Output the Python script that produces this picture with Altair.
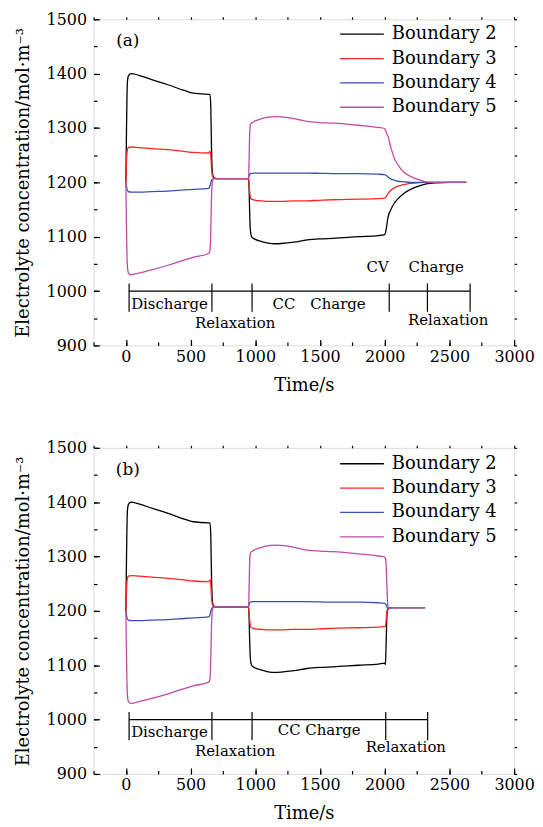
import altair as alt
import pandas as pd

FONT = "DejaVu Serif"
SERIES = ["Boundary 2", "Boundary 3", "Boundary 4", "Boundary 5"]
COLORS = ["#000000", "#ff2424", "#3b4fb2", "#c04aa8"]

# ---- shared part (0 .. 2000 s) ----
T_COMMON = [0, 5, 12, 20, 40, 100, 200, 320, 450, 520, 640, 650, 656, 662, 670, 680, 700,
            800, 900, 948, 952, 956, 962, 970, 985, 1000, 1050, 1100, 1150, 1200, 1300,
            1400, 1500, 1600, 1800, 1950, 2000]
B2_COMMON = [1200, 1300, 1385, 1396, 1400, 1397, 1389, 1380, 1369, 1364, 1362, 1362, 1340, 1260,
             1215, 1209, 1207, 1207, 1207, 1207, 1190, 1150, 1112, 1101, 1097, 1095, 1091, 1088,
             1087, 1087.5, 1090, 1094, 1096, 1097, 1100, 1102, 1104]
B3_COMMON = [1200, 1240, 1260, 1264, 1265, 1264, 1262, 1260, 1257, 1255, 1254, 1257, 1250, 1225,
             1211, 1208, 1207, 1207, 1207, 1207, 1198, 1185, 1173, 1169, 1168, 1167, 1166, 1165,
             1165, 1165, 1166, 1166, 1167, 1168, 1169, 1170, 1171]
B4_COMMON = [1200, 1192, 1185, 1183, 1182, 1182, 1183, 1184, 1186, 1187, 1189, 1193, 1199, 1204,
             1206, 1207, 1207, 1207, 1207, 1207, 1211, 1214, 1216, 1216.5, 1217, 1217, 1217, 1217,
             1217, 1217, 1217, 1217, 1216.5, 1216, 1216, 1215, 1214]
B5_COMMON = [1200, 1110, 1045, 1033, 1030, 1033, 1039, 1047, 1057, 1062, 1069, 1075, 1110, 1175,
             1203, 1207, 1207, 1207, 1207, 1207, 1240, 1285, 1306, 1309, 1311, 1313, 1317, 1320,
             1321, 1320.5, 1317, 1312, 1310, 1309, 1305, 1301, 1299]

# ---- (a) CV charge + relaxation tail ----
T_TAIL_A = [2010, 2025, 2050, 2075, 2100, 2150, 2200, 2250, 2300, 2350, 2400, 2500, 2630]
B2_TAIL_A = [1112, 1135, 1151, 1162, 1169, 1180, 1187, 1192, 1196, 1198, 1199, 1200, 1200]
B3_TAIL_A = [1173, 1179, 1186, 1190, 1193, 1196, 1198, 1199, 1200, 1200, 1200, 1200, 1200]
B4_TAIL_A = [1213, 1210, 1206, 1204, 1202, 1201, 1200, 1200, 1200, 1200, 1200, 1200, 1200]
B5_TAIL_A = [1293, 1285, 1262, 1244, 1233, 1218, 1211, 1206, 1202, 1200, 1200, 1200, 1200]

# ---- (b) relaxation tail ----
T_TAIL_B = [2006, 2012, 2018, 2025, 2035, 2060, 2100, 2200, 2312]
B2_TAIL_B = [1101, 1150, 1195, 1203, 1205, 1206, 1206, 1206, 1206]
B3_TAIL_B = [1171, 1185, 1200, 1204, 1205, 1206, 1206, 1206, 1206]
B4_TAIL_B = [1213, 1211, 1207, 1204, 1205, 1206, 1206, 1206, 1206]
B5_TAIL_B = [1297, 1280, 1240, 1207, 1204, 1206, 1206, 1206, 1206]

# ---- timeline annotations ----
PHASES_A = [25, 665, 975, 2035, 2330, 2660]
PHASES_B = [25, 665, 975, 2008, 2332]
TIMELINE_LEVEL = 1000
TICK_LO, TICK_HI = 962, 1014
LABELS_A = ["Discharge", "Relaxation", "CC\u2003Charge", "CV\u2003\u2004Charge", "Relaxation"]
LABELS_A_X = [337, 845, 1493, 2236, 2490]
LABELS_A_Y = [977, 941, 977, 1044, 947]
LABELS_B = ["Discharge", "Relaxation", "CC Charge", "Relaxation"]
LABELS_B_X = [337, 845, 1494, 2163]
LABELS_B_Y = [977, 942, 980, 949]
PANEL_TAG_X, PANEL_TAG_Y = 15, 1460

X_MAJOR = list(range(0, 3001, 500))
X_MINOR = list(range(-250, 3001, 250))
Y_MAJOR = list(range(900, 1501, 100))
Y_MINOR = list(range(900, 1501, 50))

XS = alt.Scale(domain=[-250, 3000], nice=False, zero=False)
YS = alt.Scale(domain=[900, 1500], nice=False, zero=False)


def series_frame(tails_t, tails):
    rows = []
    commons = [B2_COMMON, B3_COMMON, B4_COMMON, B5_COMMON]
    for name, com, tail in zip(SERIES, commons, tails):
        for t, v in zip(T_COMMON + tails_t, com + tail):
            rows.append({"series": name, "t": t, "c": v})
    return pd.DataFrame(rows)


def panel(df, phases, labels, lx, ly, tag, legend_y):
    x_main = alt.Axis(orient="bottom", values=X_MAJOR, offset=-6, tickSize=6, tickWidth=1.2,
                      tickColor="black", domain=False, grid=False, labelPadding=3,
                      labelFlush=False, labelFontSize=16, labelColor="black", labelFont=FONT,
                      format="d", title="Time/s", titleFontSize=18, titleFont=FONT,
                      titleFontWeight="normal", titleColor="black", titlePadding=12)
    y_main = alt.Axis(orient="left", values=Y_MAJOR, offset=-6, tickSize=6, tickWidth=1.2,
                      tickColor="black", domain=False, grid=False, labelPadding=7,
                      labelFlush=False, labelFontSize=16, labelColor="black", labelFont=FONT,
                      format="d", title="Electrolyte concentration/mol·m⁻³", titleFontSize=18,
                      titleFont=FONT, titleFontWeight="normal", titleColor="black",
                      titlePadding=14)
    x_minor = alt.Axis(orient="bottom", values=X_MINOR, offset=-3.5, tickSize=3.5, tickWidth=1.2,
                       tickColor="black", domain=False, grid=False, labels=False, title=None)
    y_minor = alt.Axis(orient="left", values=Y_MINOR, offset=-3.5, tickSize=3.5, tickWidth=1.2,
                       tickColor="black", domain=False, grid=False, labels=False, title=None)
    x_top = alt.Axis(orient="top", values=X_MINOR, tickSize=2.5, tickWidth=1.2, tickColor="black",
                     domain=False, grid=False, labels=False, title=None)
    y_right = alt.Axis(orient="right", values=Y_MINOR, tickSize=2.5, tickWidth=1.2,
                       tickColor="black", domain=False, grid=False, labels=False, title=None)

    lines = alt.Chart(df).mark_line(interpolate="monotone", strokeWidth=1.3).encode(
        x=alt.X("t:Q", scale=XS, axis=x_main),
        y=alt.Y("c:Q", scale=YS, axis=y_main),
        color=alt.Color("series:N", scale=alt.Scale(domain=SERIES, range=COLORS),
                        legend=alt.Legend(orient="none", legendX=247, legendY=legend_y,
                                          title=None, symbolType="M-1,0H3", symbolSize=484,
                                          symbolStrokeWidth=1.3, labelOffset=29,
                                          labelFontSize=18, labelFont=FONT,
                                          labelColor="black", rowPadding=3.5, padding=0)),
        order=alt.Order("t:Q"),
    )

    span = pd.DataFrame({"start": [min(phases)], "end": [max(phases)], "level": [TIMELINE_LEVEL]})
    hrule = alt.Chart(span).mark_rule(color="black", strokeWidth=1.2).encode(
        x=alt.X("start:Q", scale=XS, axis=x_minor),
        x2="end:Q",
        y=alt.Y("level:Q", scale=YS, axis=y_minor),
    )

    ticks = pd.DataFrame({"t": phases, "lo": [TICK_LO] * len(phases), "hi": [TICK_HI] * len(phases)})
    vrule = alt.Chart(ticks).mark_rule(color="black", strokeWidth=1.2).encode(
        x=alt.X("t:Q", scale=XS, axis=x_top),
        y=alt.Y("lo:Q", scale=YS, axis=y_right),
        y2="hi:Q",
    )

    lab = pd.DataFrame({"text": labels, "x": lx, "y": ly})
    texts = alt.Chart(lab).mark_text(font=FONT, fontSize=15, color="black",
                                     baseline="middle", align="center").encode(
        x=alt.X("x:Q", scale=XS, axis=None),
        y=alt.Y("y:Q", scale=YS, axis=None),
        text="text:N",
    )

    tagdf = pd.DataFrame({"text": [tag], "x": [PANEL_TAG_X], "y": [PANEL_TAG_Y]})
    tagm = alt.Chart(tagdf).mark_text(font=FONT, fontSize=17, color="black",
                                      baseline="middle", align="center").encode(
        x=alt.X("x:Q", scale=XS, axis=None),
        y=alt.Y("y:Q", scale=YS, axis=None),
        text="text:N",
    )

    return alt.layer(lines, hrule, vrule, texts, tagm).resolve_axis(
        x="independent", y="independent"
    ).properties(width=423, height=328)


df_a = series_frame(T_TAIL_A, [B2_TAIL_A, B3_TAIL_A, B4_TAIL_A, B5_TAIL_A])
df_b = series_frame(T_TAIL_B, [B2_TAIL_B, B3_TAIL_B, B4_TAIL_B, B5_TAIL_B])

pa = panel(df_a, PHASES_A, LABELS_A, LABELS_A_X, LABELS_A_Y, "(a)", 3)
pb = panel(df_b, PHASES_B, LABELS_B, LABELS_B_X, LABELS_B_Y, "(b)", 4)

chart = alt.vconcat(pa, pb, spacing=44).resolve_scale(color="independent").properties(
    padding={"left": 5, "top": 0, "right": 0, "bottom": 0}
).configure_view(stroke="black", strokeWidth=1.3).configure(font=FONT, background="white")

chart.save("out.html", embed_options={"renderer": "svg", "actions": False})
